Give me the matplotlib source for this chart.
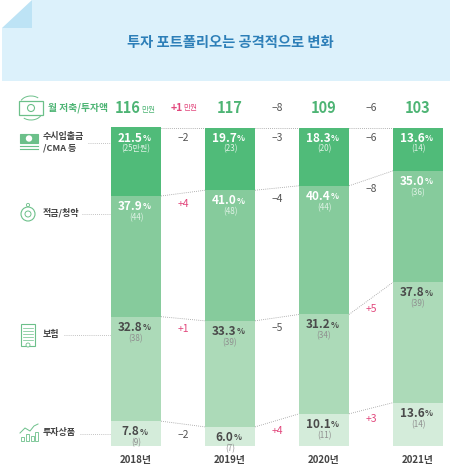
import numpy as np
import matplotlib.pyplot as plt
from matplotlib.patches import Rectangle, Polygon, Circle, Arc

plt.rcParams['font.family'] = ['Noto Sans CJK KR', 'DejaVu Sans']

# 데이터
years = ['2018년', '2019년', '2020년', '2021년']
categories = ['수시입출금\n/CMA 등', '적금/청약', '보험', '투자상품']   # 위에서 아래 순서
share_cash = [21.5, 19.7, 18.3, 13.6]
share_saving = [37.9, 41.0, 40.4, 35.0]
share_insur = [32.8, 33.3, 31.2, 37.8]
share_invest = [7.8, 6.0, 10.1, 13.6]
amt_cash = [25, 23, 20, 14]
amt_saving = [44, 48, 44, 36]
amt_insur = [38, 39, 34, 39]
amt_invest = [9, 7, 11, 14]
totals = [116, 117, 109, 103]

shares = [share_cash, share_saving, share_insur, share_invest]
amounts = [amt_cash, amt_saving, amt_insur, amt_invest]
colors = ['#50bb79', '#86cb9c', '#acdab8', '#d4ecda']
pink = '#e2487d'
gray = '#555555'
green = '#4db474'
icon_c = '#6cc08a'

fig = plt.figure(figsize=(4.5, 4.75), dpi=100)

# 픽셀 좌표 축 (배너, 라벨, 아이콘)
ax = fig.add_axes([0, 0, 1, 1])
ax.set_xlim(0, 450)
ax.set_ylim(475, 0)
ax.axis('off')

# 막대 축: x = 연도 인덱스, y = 비율(%)
px_x0, px_dx = 136, 94
y_base, px_per = 446, 3.185
bx = fig.add_axes([0, 0, 1, 1])
bx.set_xlim(-px_x0 / px_dx, (450 - px_x0) / px_dx)
bx.set_ylim(-(475 - y_base) / px_per, y_base / px_per)
bx.axis('off')
bx.patch.set_alpha(0)

# 배너
ax.add_patch(Polygon([(32, 0), (450, 0), (450, 81), (2, 81), (2, 28), (32, 28)],
                     closed=True, facecolor='#dcf1fb', edgecolor='none'))
ax.add_patch(Polygon([(2, 28), (32, 0), (32, 28)], closed=True,
                     facecolor='#bde3f5', edgecolor='none'))
ax.text(230, 43, '투자 포트폴리오는 공격적으로 변화', ha='center', va='center',
        fontsize=10.3, fontweight='bold', color='#2d7fb8')

# 누적 막대
x = np.arange(len(years))
w = 50 / px_dx
tops = []
bottom = np.zeros(len(years))
for vals, c in zip(shares[::-1], colors[::-1]):
    bx.bar(x, vals, w, bottom=bottom, color=c, edgecolor='none')
    bottom = bottom + np.array(vals)
    tops.append(bottom.copy())
tops = tops[::-1]   # 위에서 아래 순서: 각 구간의 윗변

# 막대 사이 점선
for t in tops:
    for i in range(len(years) - 1):
        bx.plot([i + w / 2, i + 1 - w / 2], [t[i], t[i + 1]], color='#9a9a9a',
                lw=0.6, ls=(0, (1, 1.5)))

# 값 라벨
for k, (vals, amts) in enumerate(zip(shares, amounts)):
    dark = k < 2
    for i in range(len(years)):
        t = tops[k][i]
        num = bx.text(i - 0.06, t - 10.5 / px_per, f'{vals[i]:.1f}', ha='center',
                      va='center', fontsize=8.5, fontweight='bold',
                      color='white' if dark else '#4a4a4a')
        bx.annotate('%', xy=(1, 0.12), xycoords=num, xytext=(0.2, 0),
                    textcoords='offset points', ha='left', va='bottom',
                    fontsize=6, fontweight='bold',
                    color='white' if dark else '#4a4a4a')
        lab = f'({amts[i]}만원)' if (k == 0 and i == 0) else f'({amts[i]})'
        bx.text(i, t - 21.5 / px_per, lab, ha='center', va='center', fontsize=5.8,
                color='#dff2e5' if dark else '#8f8f8f')

# 변화량 라벨
for k, amts in enumerate(amounts):
    for i in range(len(years) - 1):
        d = amts[i + 1] - amts[i]
        yl = (tops[k][i] + tops[k][i + 1]) / 2 - 10.5 / px_per
        bx.text(i + 0.5, yl, f'{d:+d}'.replace('-', '–'), ha='center', va='center',
                fontsize=7.5, color=pink if d > 0 else gray)

# 연도 라벨
for i, yr in enumerate(years):
    bx.text(i, -14 / px_per, yr, ha='center', va='center', fontsize=7,
            fontweight='bold', color='#444444')

# 월 저축/투자액 행
row_y = 108
for i, tot in enumerate(totals):
    xc = px_x0 + px_dx * i
    if i == 0:
        t = ax.text(xc - 8, row_y, str(tot), ha='center', va='center', fontsize=10.5,
                    fontweight='bold', color=green)
        ax.annotate('만원', xy=(1, 0.15), xycoords=t, xytext=(0.3, 0),
                    textcoords='offset points', ha='left', va='bottom',
                    fontsize=5.5, color=green)
    else:
        ax.text(xc, row_y, str(tot), ha='center', va='center', fontsize=10.5,
                fontweight='bold', color=green)
for i in range(len(totals) - 1):
    d = totals[i + 1] - totals[i]
    xm = px_x0 + px_dx * (i + 0.5)
    if i == 0:
        t = ax.text(xm - 6, row_y, f'{d:+d}', ha='center', va='center', fontsize=7.5,
                    fontweight='bold', color=pink)
        ax.annotate('만원', xy=(1, 0.1), xycoords=t, xytext=(0.3, 0),
                    textcoords='offset points', ha='left', va='bottom',
                    fontsize=5.5, color=pink)
    else:
        ax.text(xm, row_y, f'{d:+d}'.replace('-', '–'), ha='center', va='center',
                fontsize=7.5, color=gray)

ax.text(48, row_y, '월 저축/투자액', ha='left', va='center', fontsize=7,
        fontweight='bold', color=green)

# 왼쪽 카테고리 라벨과 점선
label_y = [142, 213, 334, 433]
line_x0 = [88, 82, 64, 80]
for name, ly, lx in zip(categories, label_y, line_x0):
    ax.text(43, ly, name, ha='left', va='center', fontsize=6.5, fontweight='bold',
            color='#444444', linespacing=1.3)
    ax.plot([lx, 111], [ly + 1, ly + 1], color='#b0b0b0', lw=0.6, ls=(0, (1, 1.5)))

# 아이콘 (간단한 선 그림)
ax.add_patch(Rectangle((19, 101), 24, 14, fill=False, ec=icon_c, lw=0.9))
ax.add_patch(Circle((31, 108), 3.5, fill=False, ec=icon_c, lw=0.8))
ax.add_patch(Arc((31, 104), 22, 16, theta1=200, theta2=320, ec=icon_c, lw=0.7))
ax.add_patch(Arc((31, 112), 22, 16, theta1=20, theta2=140, ec=icon_c, lw=0.7))

ax.add_patch(Rectangle((20, 134), 18, 9, fc=icon_c, ec=icon_c, lw=0.8))
ax.add_patch(Circle((29, 138.5), 2.5, fc='white', ec='white'))
ax.plot([20, 38], [146, 146], color=icon_c, lw=0.8)
ax.plot([20, 38], [148.5, 148.5], color=icon_c, lw=0.8)

ax.add_patch(Circle((28, 214), 7, fill=False, ec=icon_c, lw=0.8))
ax.add_patch(Circle((28, 214), 3, fill=False, ec=icon_c, lw=0.7))
ax.add_patch(Circle((28, 205), 1.6, fill=False, ec=icon_c, lw=0.6))

ax.add_patch(Rectangle((21, 324), 14, 22, fill=False, ec=icon_c, lw=0.8))
for yy in [328, 331, 334, 337, 340]:
    ax.plot([23, 33], [yy, yy], color=icon_c, lw=0.5)
ax.add_patch(Circle((28, 345), 2, fc='white', ec=icon_c, lw=0.6))

for xx, hh in zip([21, 26, 31, 35], [4, 7, 5, 9]):
    ax.add_patch(Rectangle((xx, 441 - hh), 3, hh, fill=False, ec=icon_c, lw=0.6))
ax.plot([20, 25, 30, 34, 38], [433, 428, 431, 426, 424], color=icon_c, lw=0.7)

fig.savefig('out.png', dpi=100)
